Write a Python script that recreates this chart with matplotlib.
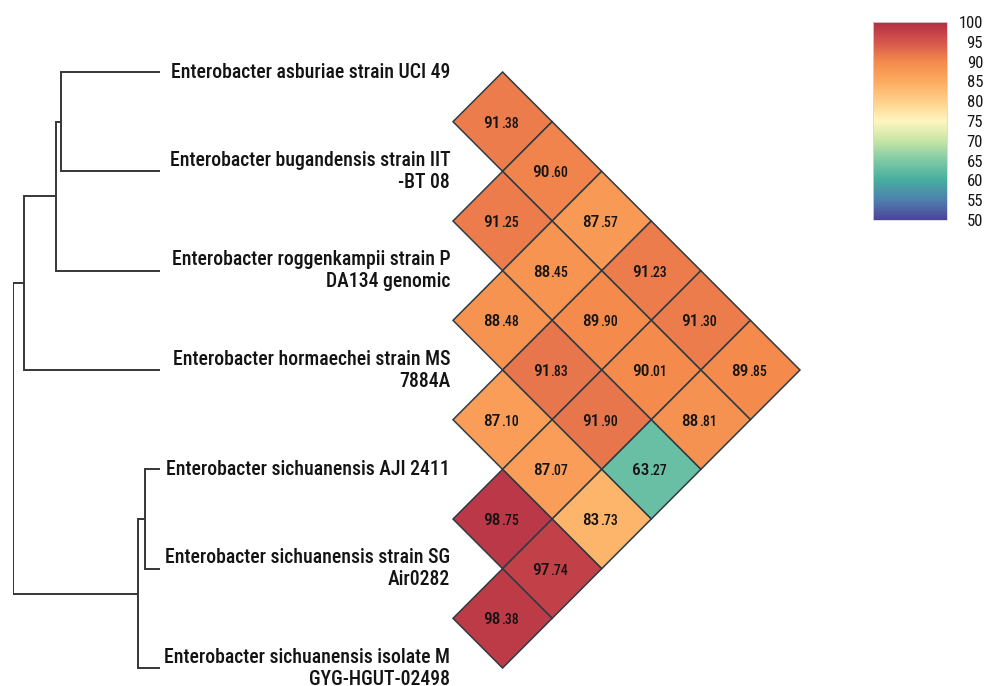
import matplotlib
matplotlib.use("Agg")
import matplotlib.pyplot as plt
from matplotlib import font_manager
from matplotlib.colors import LinearSegmentedColormap, Normalize
from matplotlib.cm import ScalarMappable
from matplotlib.patches import Polygon

# ---------------------------------------------------------------- data
taxa = [
    "Enterobacter asburiae strain UCI 49",
    "Enterobacter bugandensis strain IIT\n-BT 08",
    "Enterobacter roggenkampii strain P\nDA134 genomic",
    "Enterobacter hormaechei strain MS\n7884A",
    "Enterobacter sichuanensis AJI 2411",
    "Enterobacter sichuanensis strain SG\nAir0282",
    "Enterobacter sichuanensis isolate M\nGYG-HGUT-02498",
]

# pairwise ANI (%): each list compares one genome with every genome below it
ani_asburiae = [91.38, 90.60, 87.57, 91.23, 91.30, 89.85]
ani_bugandensis = [91.25, 88.45, 89.90, 90.01, 88.81]
ani_roggenkampii = [88.48, 91.83, 91.90, 63.27]
ani_hormaechei = [87.10, 87.07, 83.73]
ani_aji2411 = [98.75, 97.74]
ani_sg_air0282 = [98.38]
ani_rows = [ani_asburiae, ani_bugandensis, ani_roggenkampii,
            ani_hormaechei, ani_aji2411, ani_sg_air0282]

# tree merges (child a, child b, height); ids >= 7 refer to earlier merges
merge_a = [0, 7, 8, 4, 10, 9]
merge_b = [1, 2, 3, 5, 6, 11]
merge_height = [0.099, 0.104, 0.136, 0.015, 0.022, 0.147]

cbar_ticks = [100, 95, 90, 85, 80, 75, 70, 65, 60, 55, 50]
cmap_levels = [50, 55, 60, 65, 70, 75, 80, 85, 90, 95, 100]
cmap_colors = ["#4b4597", "#4f7fae", "#46ad9f", "#7ecaa5", "#c7e5a6",
               "#fff5be", "#fed08a", "#fdab60", "#f48a4c", "#d6564c",
               "#b22f45"]


# ---------------------------------------------------------------- fonts
def pick_font(candidates):
    names = {f.name for f in font_manager.fontManager.ttflist}
    for c in candidates:
        if c in names:
            return c
    return "DejaVu Sans"


FONT = pick_font(["Roboto Condensed", "Liberation Sans Narrow",
                  "Arial Narrow", "Roboto", "DejaVu Sans"])
plt.rcParams["font.family"] = [FONT, "DejaVu Sans"]

INK = "#141414"
TREE = "#363636"
EDGE = "#2e3b44"

cmap = LinearSegmentedColormap.from_list(
    "ani", [((v - 50) / 50, c) for v, c in zip(cmap_levels, cmap_colors)])
norm = Normalize(vmin=50, vmax=100)

# ---------------------------------------------------------------- figure
W, H = 984, 686
fig = plt.figure(figsize=(W / 100, H / 100), dpi=100)
fig.patch.set_facecolor("white")

n = len(taxa)
# shared vertical scale: taxon index -> row position
y_top, y_bottom = -0.725, 6.181


def fig_box(x0, x1, y0, y1):
    return [x0 / W, 1 - y1 / H, (x1 - x0) / W, (y1 - y0) / H]


# dendrogram
ax_tree = fig.add_axes(fig_box(13, 160, 0, H))
ax_tree.set_xlim(max(merge_height), 0)
ax_tree.set_ylim(y_bottom, y_top)
ax_tree.axis("off")

node_y = {i: float(i) for i in range(n)}
node_h = {i: 0.0 for i in range(n)}
for k, (a, b, h) in enumerate(zip(merge_a, merge_b, merge_height)):
    nid = n + k
    ya, yb = node_y[a], node_y[b]
    ax_tree.plot([node_h[a], h, h, node_h[b]], [ya, ya, yb, yb],
                 color=TREE, lw=1.4, solid_joinstyle="miter",
                 solid_capstyle="butt")
    node_y[nid] = (ya + yb) / 2
    node_h[nid] = h

# diamond heatmap
ax_hm = fig.add_axes(fig_box(453, 800, 0, H))
ax_hm.set_xlim(0, 3.5)
ax_hm.set_ylim(y_bottom, y_top)
ax_hm.axis("off")

for i, row in enumerate(ani_rows):
    for off, val in enumerate(row, start=1):
        j = i + off
        cx, cy = off * 0.5, (i + j) / 2
        verts = [(cx - 0.5, cy), (cx, cy - 0.5), (cx + 0.5, cy), (cx, cy + 0.5)]
        ax_hm.add_patch(Polygon(verts, closed=True, facecolor=cmap(norm(val)),
                                edgecolor=EDGE, lw=1.1, clip_on=False))
        whole, frac = f"{val:.2f}".split(".")
        # whole part large, decimals smaller, sharing one baseline
        ax_hm.annotate(whole, (cx, cy), xytext=(-1.5, -4.2),
                       textcoords="offset points", ha="right", va="baseline",
                       fontsize=12.5, fontweight="medium", color=INK,
                       annotation_clip=False)
        ax_hm.annotate("." + frac, (cx, cy), xytext=(-1.2, -4.2),
                       textcoords="offset points", ha="left", va="baseline",
                       fontsize=10, fontweight="medium", color=INK,
                       annotation_clip=False)

# taxon labels, right-aligned against the heatmap
for i, name in enumerate(taxa):
    ax_hm.annotate(name, (0, i), xytext=(-2, 0), textcoords="offset points",
                   ha="right", va="center", multialignment="right",
                   fontsize=14.2, fontweight="medium", color=INK,
                   annotation_clip=False)

# colour bar
cax = fig.add_axes(fig_box(873, 947, 22, 220))
cb = fig.colorbar(ScalarMappable(norm=norm, cmap=cmap), cax=cax,
                  ticks=cbar_ticks)
cb.outline.set_edgecolor("#d8d4e4")
cb.outline.set_linewidth(0.6)
cax.tick_params(length=0, pad=26, labelsize=12, labelcolor=INK)
for lbl in cax.get_yticklabels():
    lbl.set_horizontalalignment("right")

fig.savefig("out.png", dpi=100, facecolor="white")
